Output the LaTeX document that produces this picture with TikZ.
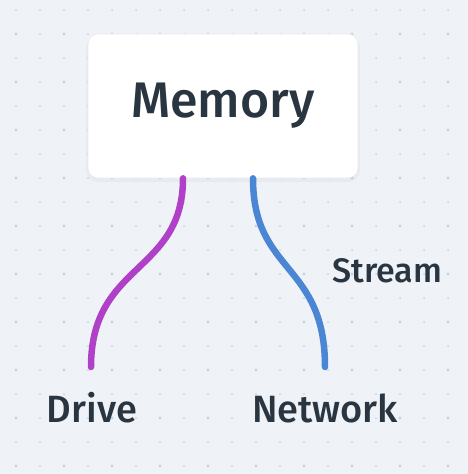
\documentclass[tikz,border=0pt]{standalone}
\usepackage{fontspec}
\setmainfont{Fira Sans}[UprightFont=* Medium]
\usetikzlibrary{positioning}
\definecolor{canvas}{HTML}{EFF3F7}
\definecolor{dotgray}{HTML}{C9D1DC}
\definecolor{inkdark}{HTML}{2A3542}
\definecolor{drivepurple}{HTML}{B040C8}
\definecolor{netblue}{HTML}{4A86D4}
\tikzset{
    memorybox/.style={fill=white, draw=dotgray!45, line width=0.6pt, rounded corners=10pt,
        minimum width=270pt, minimum height=144pt, inner sep=0pt, text=inkdark,
        font=\fontsize{50}{60}\selectfont},
    leaflabel/.style={text=inkdark, inner sep=0pt, font=\fontsize{38}{46}\selectfont},
    linklabel/.style={text=inkdark, inner sep=0pt, font=\fontsize{34}{41}\selectfont},
    wire/.style={line width=6.5pt, line cap=round}
}
\begin{document}
\begin{tikzpicture}[x=1pt, y=-1pt]
        \fill[canvas] (0,0) rectangle (468,474);
        \useasboundingbox (0,0) rectangle (468,474);
        \foreach \x in {16,40,...,460} {
            \foreach \y in {10,34,...,470} {
                \fill[dotgray] (\x, \y) circle (1pt);
            }
        }
        \foreach \x in {16,64,...,460} {
            \foreach \y in {34,82,...,470} {
                \fill[dotgray] (\x, \y) circle (1.7pt);
            }
        }
        % soft shadow under the box
        \fill[black, opacity=0.03, rounded corners=12pt] (86,36) rectangle (360,182);
        \node[memorybox] (memory) at (223,106) {Memory};
        \coordinate (driveend) at (91,367);
        \coordinate (netend) at (325,367);
        \node[leaflabel, anchor=base] (drive) at (92,422) {Drive};
        \node[leaflabel, anchor=base] (network) at (325,422) {Network};
        \draw[wire, drivepurple] (memory.south -| 183,0) .. controls (183,274) and (91,262) .. (driveend);
        \draw[wire, netblue] (memory.south -| 253,0) .. controls (253,274) and (325,262) .. (netend)
            node[linklabel, pos=0.5, anchor=west, xshift=40pt, yshift=-2pt] (stream) {Stream};
    \end{tikzpicture}
\end{document}
